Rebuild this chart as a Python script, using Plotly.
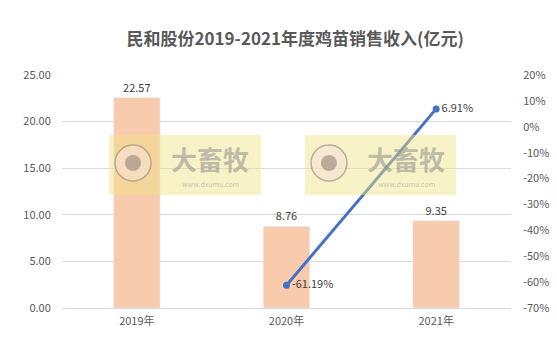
import plotly.graph_objects as go

categories = ["2019年", "2020年", "2021年"]
revenue = [22.57, 8.76, 9.35]
growth_x = ["2020年", "2021年"]
growth = [-61.19, 6.91]
left_ticks = [0, 5, 10, 15, 20, 25]
right_ticks = list(range(-70, 30, 10))
right_labels = [f"{v}%" for v in right_ticks]

fig = go.Figure()
fig.add_trace(go.Bar(
    x=categories, y=revenue, width=0.31,
    marker=dict(color="#F8CBAD"),
    text=[f"{v:.2f}" for v in revenue], textposition="outside",
    textfont=dict(size=11, color="#404040"), cliponaxis=False,
    yaxis="y"))
fig.add_trace(go.Scatter(
    x=growth_x, y=growth, mode="lines+markers+text",
    line=dict(color="#4472C4", width=3), marker=dict(size=7, color="#4472C4"),
    text=[f"{v:.2f}%" for v in growth], textposition="middle right",
    textfont=dict(size=11, color="#404040"), yaxis="y2", cliponaxis=False))

# watermark approximations
shapes = []
annotations = []
for x0, x1 in [(109, 261), (305, 456)]:
    shapes.append(dict(type="rect", xref="paper", yref="paper",
                       x0=(x0-62)/449, x1=(x1-62)/449,
                       y0=(308-195)/233, y1=(308-135)/233,
                       fillcolor="rgba(240,228,130,0.45)", line=dict(width=0), layer="above"))
    cx = x0 + 24
    shapes.append(dict(type="circle", xref="paper", yref="paper",
                       x0=(cx-18-62)/449, x1=(cx+18-62)/449,
                       y0=(308-181)/233, y1=(308-145)/233,
                       fillcolor="rgba(245,225,215,0.6)", line=dict(color="rgba(150,130,120,0.6)", width=1.5), layer="above"))
    shapes.append(dict(type="circle", xref="paper", yref="paper",
                       x0=(cx-8-62)/449, x1=(cx+8-62)/449,
                       y0=(308-171)/233, y1=(308-155)/233,
                       fillcolor="rgba(150,130,120,0.6)", line=dict(width=0), layer="above"))
    annotations.append(dict(text="<b>大畜牧</b>", xref="paper", yref="paper",
                            x=(x0+101-62)/449, y=(308-158)/233, showarrow=False,
                            xanchor="center", yanchor="middle",
                            font=dict(size=26, color="rgba(140,140,140,0.55)")))
    annotations.append(dict(text="www.dxumu.com", xref="paper", yref="paper",
                            x=(x0+101-62)/449, y=(308-184)/233, showarrow=False,
                            xanchor="center", yanchor="middle",
                            font=dict(size=7, color="rgba(150,150,150,0.5)")))

fig.update_layout(
    width=557, height=339,
    margin=dict(l=62, r=46, t=75, b=31),
    paper_bgcolor="white", plot_bgcolor="white",
    showlegend=False,
    font=dict(family="Noto Sans CJK SC, Open Sans", color="#595959"),
    title=dict(text="<b>民和股份2019-2021年度鸡苗销售收入(亿元)</b>", x=0.53, xanchor="center",
               y=0.885, yanchor="middle", font=dict(size=17, color="#595959")),
    xaxis=dict(showgrid=False, showline=True, linecolor="#D9D9D9",
               ticks="outside", ticklen=3, tickcolor="white",
               tickfont=dict(size=11, color="#595959"), automargin=False),
    yaxis=dict(range=[0, 25], tickvals=left_ticks, tickformat=".2f",
               showgrid=True, gridcolor="#D9D9D9", zeroline=False, automargin=False,
               tickfont=dict(size=11, color="#595959"), ticklen=8, ticks="outside", tickcolor="white"),
    yaxis2=dict(range=[-70, 20], tickmode="array", tickvals=right_ticks, ticktext=right_labels,
                overlaying="y", side="right", showgrid=False, zeroline=False, automargin=False,
                tickfont=dict(size=11, color="#595959"), ticks="outside", ticklen=9, tickcolor="white"),
    shapes=shapes, annotations=annotations,
)

fig.write_html("out.html")
